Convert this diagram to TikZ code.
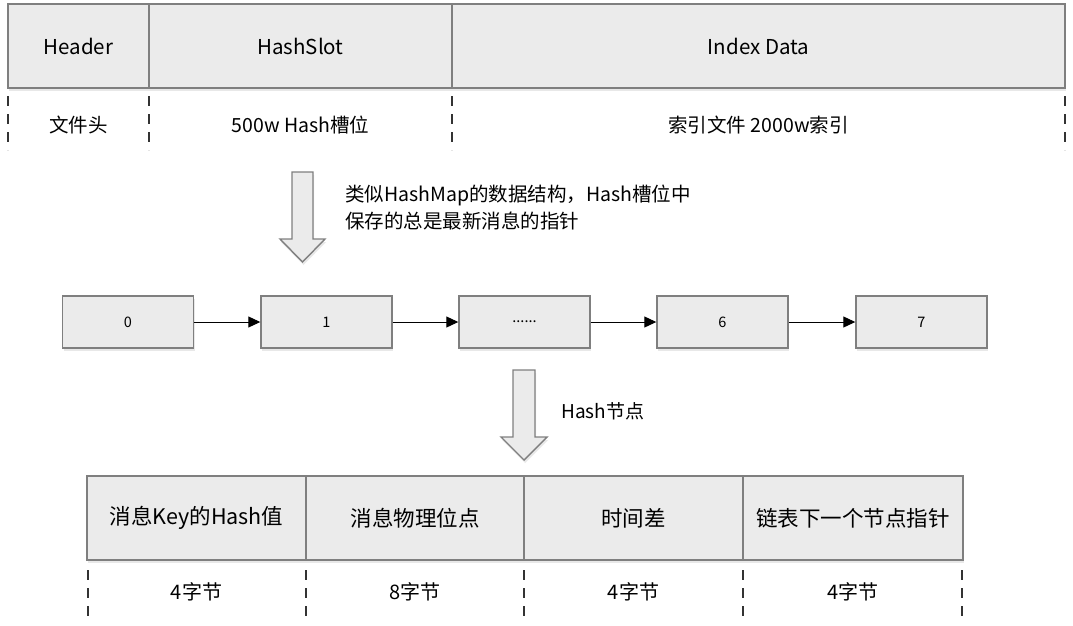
\documentclass[tikz,border=0pt]{standalone}
\usepackage{fontspec}
\setmainfont{Noto Sans CJK SC}
\usetikzlibrary{arrows.meta,shadows,patterns}
\definecolor{boxfill}{HTML}{EBEBEB}
\definecolor{boxline}{HTML}{7F7F7F}
\tikzset{
  cell/.style={draw=boxline, line width=1.4pt, fill=boxfill, rectangle, inner sep=0pt, font=\fontsize{20.5}{24}\selectfont,
    drop shadow={opacity=0.18, shadow xshift=1pt, shadow yshift=-3pt}},
  bcell/.style={cell, font=\fontsize{21.5}{25}\selectfont},
  slot/.style={cell, minimum width=131pt, minimum height=52pt, font=\fontsize{14.5}{17}\selectfont},
  lbl/.style={inner sep=0pt, font=\fontsize{19.5}{23}\selectfont},
  blbl/.style={inner sep=0pt, font=\fontsize{20}{23}\selectfont},
  divide/.style={draw=black!80, line width=1.4pt, dash pattern=on 10pt off 8pt},
  link/.style={draw=black, line width=1pt, -{Triangle[length=12pt,width=11pt]}},
  bigarrow/.style={draw=boxline, line width=1.4pt, fill=boxfill, drop shadow={opacity=0.18, shadow xshift=1pt, shadow yshift=-3pt}}
}
\begin{document}
\begin{tikzpicture}[x=1pt,y=-1pt]
\useasboundingbox (0,0) rectangle (1073,626);
% top bar
\node[cell, minimum width=141pt, minimum height=84pt] (hdr) at (78.5,46) {Header};
\node[cell, minimum width=303pt, minimum height=84pt] (slot) at (300.5,46) {HashSlot};
\node[cell, minimum width=613pt, minimum height=84pt] (idx) at (758.5,46) {Index Data};
% dashed dividers top
\foreach \x/\n in {8/a,149/b,452/c,1065/d}{
  \coordinate (t\n1) at (\x,96); \coordinate (t\n2) at (\x,150);
  \draw[divide] (t\n1) -- (t\n2);
}
\node[lbl] (l1) at (78.5,125) {文件头};
\node[lbl] (l2) at (300.5,125) {500w Hash槽位};
\node[lbl] (l3) at (758.5,125) {索引文件 2000w索引};
% arrow 1
\draw[bigarrow] (292,172) -- (313,172) -- (313,239) -- (325,239) -- (302.5,262) -- (280,239) -- (292,239) -- cycle;
\node[lbl, anchor=west, align=left, font=\fontsize{19.5}{27}\selectfont] (desc) at (345,208) {类似HashMap的数据结构，Hash槽位中\\保存的总是最新消息的指针};
% slots
\node[slot] (s0) at (128,322) {0};
\node[slot] (s1) at (326.5,322) {1};
\node[slot] (s2) at (524.5,322) {......};
\node[slot] (s3) at (722.5,322) {6};
\node[slot] (s4) at (921.5,322) {7};
\draw[link] (s0) -- (s1);
\draw[link] (s1) -- (s2);
\draw[link] (s2) -- (s3);
\draw[link] (s3) -- (s4);
% arrow 2
\draw[bigarrow] (513,370) -- (535,370) -- (535,437) -- (547,437) -- (524,460) -- (501,437) -- (513,437) -- cycle;
\node[lbl, anchor=west, font=\fontsize{19}{22}\selectfont] (hn) at (561,411) {Hash节点};
% bottom bar
\node[bcell, minimum width=219pt, minimum height=84pt] (b1) at (196.5,518) {消息Key的Hash值};
\node[bcell, minimum width=218pt, minimum height=84pt] (b2) at (415,518) {消息物理位点};
\node[bcell, minimum width=219pt, minimum height=84pt] (b3) at (633.5,518) {时间差};
\node[bcell, minimum width=220pt, minimum height=84pt] (b4) at (853,518) {链表下一个节点指针};
\foreach \x/\n in {88/a,306/b,524/c,743/d,962/e}{
  \coordinate (u\n1) at (\x,570); \coordinate (u\n2) at (\x,620);
  \draw[divide] (u\n1) -- (u\n2);
}
\node[blbl] (m1) at (196.5,592) {4字节};
\node[blbl] (m2) at (415,592) {8字节};
\node[blbl] (m3) at (633.5,592) {4字节};
\node[blbl] (m4) at (853,592) {4字节};
\end{tikzpicture}
\end{document}
